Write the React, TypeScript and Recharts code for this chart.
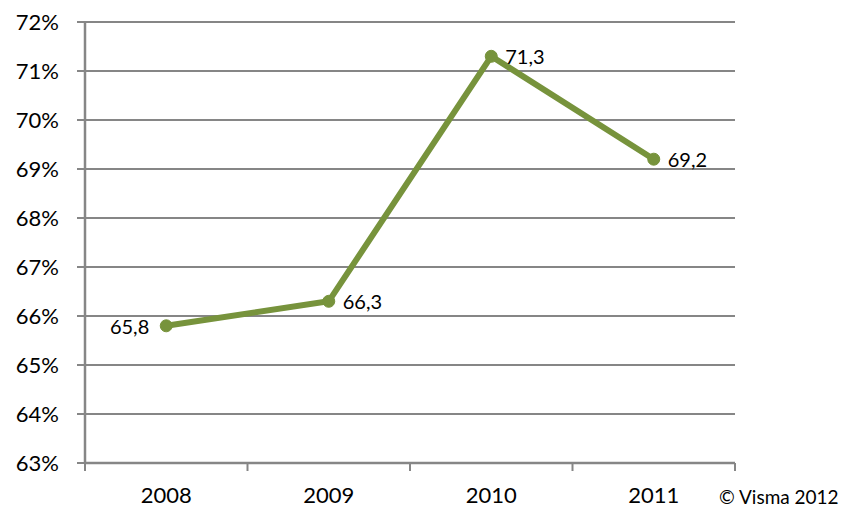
import React from "react";
import { CartesianGrid, LabelList, Line, LineChart, XAxis, YAxis } from "recharts";

const years = ["2008", "2009", "2010", "2011"];
const share = [65.8, 66.3, 71.3, 69.2];
const yTicks = [63, 64, 65, 66, 67, 68, 69, 70, 71, 72];
const yearBounds = [0, 1, 2, 3, 4];

// x positions sit in the middle of each year slot so the ticks fall on the boundaries
const data = years.map((year, i) => ({ year, pos: i + 0.5, value: share[i] }));

const W = 853;
const H = 520;
const margin = { top: 22, right: 118, bottom: 0, left: 0 };
const yAxisWidth = 85;
const step = (W - margin.left - margin.right - yAxisWidth) / years.length;

const grey = "#868686";
const green = "#77933C";
const font = "Lato, 'Open Sans', sans-serif";

const YearTick = (props: any) => {
  const { x, y, payload } = props;
  const label = years[payload.value];
  if (!label) return <g />;
  return (
    <text
      x={x + step / 2}
      y={y + 30}
      textAnchor="middle"
      fontSize={22}
      fontFamily={font}
      fill="#000"
    >
      {label}
    </text>
  );
};

const ValueLabel = (props: any) => {
  const { x, y, value, index } = props;
  const left = index === 0;
  return (
    <text
      x={left ? x - 17 : x + 14}
      y={y + 1}
      dy="0.355em"
      textAnchor={left ? "end" : "start"}
      fontSize={20}
      fontFamily={font}
      fill="#000"
    >
      {Number(value).toFixed(1).replace(".", ",")}
    </text>
  );
};

export default function App() {
  return (
    <div style={{ position: "absolute", left: 0, top: 0, width: W, height: H, background: "#fff" }}>
      <LineChart width={W} height={H} data={data} margin={margin}>
        <CartesianGrid vertical={false} stroke={grey} strokeWidth={2} strokeOpacity={1} />
        <XAxis
          dataKey="pos"
          type="number"
          domain={[0, 4]}
          ticks={yearBounds}
          interval={0}
          height={57}
          tickSize={8}
          tickMargin={2}
          axisLine={{ stroke: grey, strokeWidth: 2.5 }}
          tickLine={{ stroke: grey, strokeWidth: 2 }}
          tick={<YearTick />}
        />
        <YAxis
          type="number"
          domain={[63, 72]}
          ticks={yTicks}
          interval={0}
          width={yAxisWidth}
          tickSize={8}
          tickMargin={18}
          tickFormatter={(v: number) => `${v}%`}
          axisLine={{ stroke: grey, strokeWidth: 2.5 }}
          tickLine={{ stroke: grey, strokeWidth: 2 }}
          tick={{ fontSize: 22, fontFamily: font, fill: "#000" }}
        />
        <Line
          dataKey="value"
          type="linear"
          stroke={green}
          strokeWidth={6}
          dot={{ r: 6, fill: green, stroke: green, strokeWidth: 1 }}
          activeDot={false}
          isAnimationActive={false}
        >
          <LabelList dataKey="value" content={<ValueLabel />} />
        </Line>
      </LineChart>
      <div
        style={{
          position: "absolute",
          left: 719,
          top: 487,
          fontFamily: font,
          fontSize: 19,
          lineHeight: "19px",
          color: "#000",
          whiteSpace: "nowrap",
        }}
      >
        © Visma 2012
      </div>
    </div>
  );
}
